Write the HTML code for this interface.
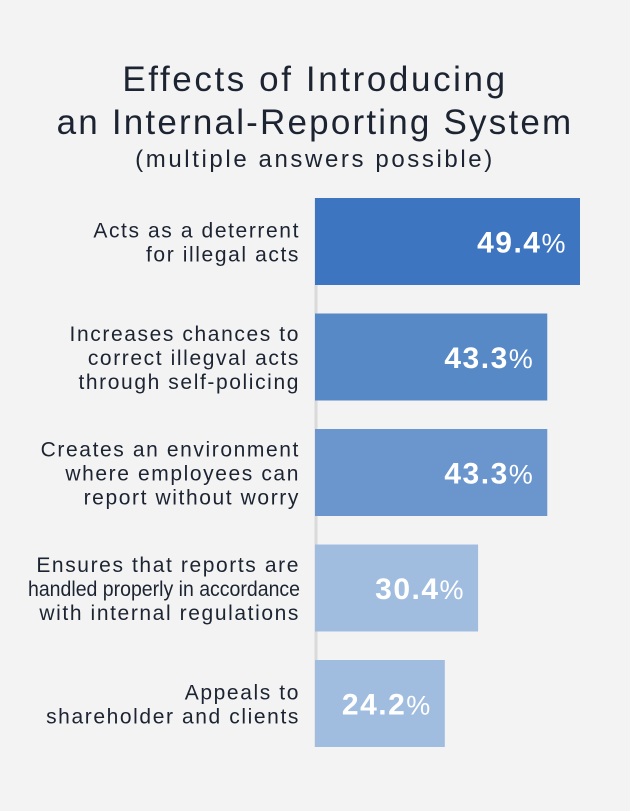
<!DOCTYPE html>
<html><head><meta charset="utf-8"><style>
body{margin:0;width:630px;height:811px;background:#f3f3f3;font-family:"Liberation Sans","Noto Sans CJK JP",sans-serif;overflow:hidden}
#title{position:absolute;left:0;width:630px;text-align:center;color:#1c2432}
</style></head><body>
<div id="title">
<div style="position:absolute;top:60px;width:630px;font-size:35px;line-height:40px;letter-spacing:2.6px">Effects of Introducing</div>
<div style="position:absolute;top:103px;width:630px;font-size:35px;line-height:40px;letter-spacing:2.2px">an Internal-Reporting System</div>
<div style="position:absolute;top:146px;width:630px;font-size:24px;line-height:28px;letter-spacing:2.6px">(multiple answers possible)</div>
</div>
<svg id="chart" width="630" height="811" style="position:absolute;left:0;top:0"></svg>
<script>
const categories=[["Acts as a deterrent","for illegal acts"],["Increases chances to","correct illegval acts","through self-policing"],["Creates an environment","where employees can","report without worry"],["Ensures that reports are","handled properly in accordance","with internal regulations"],["Appeals to","shareholder and clients"]];
const values=[49.4,43.3,43.3,30.4,24.2];
const colors=["#3d75c0","#5889c7","#6a96cd","#a0bde0","#a0bde0"];
const svg=document.getElementById('chart');const NS='http://www.w3.org/2000/svg';
const x0=315,pxPer=265/49.4;
const x=v=>x0+v*pxPer;
const y=i=>198+i*115.5;
const bh=87;
const ax=document.createElementNS(NS,'line');


ax.setAttribute('x1',316);ax.setAttribute('x2',316);ax.setAttribute('y1',y(0));ax.setAttribute('y2',y(values.length-1)+bh);
ax.setAttribute('stroke','#dadada');ax.setAttribute('stroke-width','3');svg.appendChild(ax);
values.forEach((v,i)=>{
const r=document.createElementNS(NS,'rect');


r.setAttribute('x',x0);r.setAttribute('y',y(i));r.setAttribute('width',x(v)-x0);r.setAttribute('height',bh);r.setAttribute('fill',colors[i]);svg.appendChild(r);
const t=document.createElementNS(NS,'text');


t.setAttribute('x',x(v)-13);t.setAttribute('y',y(i)+bh/2+11);t.setAttribute('text-anchor','end');t.setAttribute('fill','#fff');t.setAttribute('font-size','30');t.setAttribute('font-weight','bold');t.setAttribute('letter-spacing','1.5');
t.innerHTML=v.toFixed(1)+'<tspan font-weight="normal" font-size="27">%</tspan>';svg.appendChild(t);
const lines=categories[i];const lh=24;const start=y(i)+bh/2-(lines.length-1)*lh/2+8;
lines.forEach((s,j)=>{const l=document.createElementNS(NS,'text');


l.setAttribute('x',300);l.setAttribute('y',start+j*lh);l.setAttribute('text-anchor','end');l.setAttribute('fill','#1c2432');l.setAttribute('font-size','21');l.setAttribute('letter-spacing','1.6');l.textContent=s;svg.appendChild(l);
const w=l.getComputedTextLength();if(w>272){l.setAttribute('letter-spacing','0');l.setAttribute('textLength','272');l.setAttribute('lengthAdjust','spacingAndGlyphs');}
});
});
</script>
</body></html>
